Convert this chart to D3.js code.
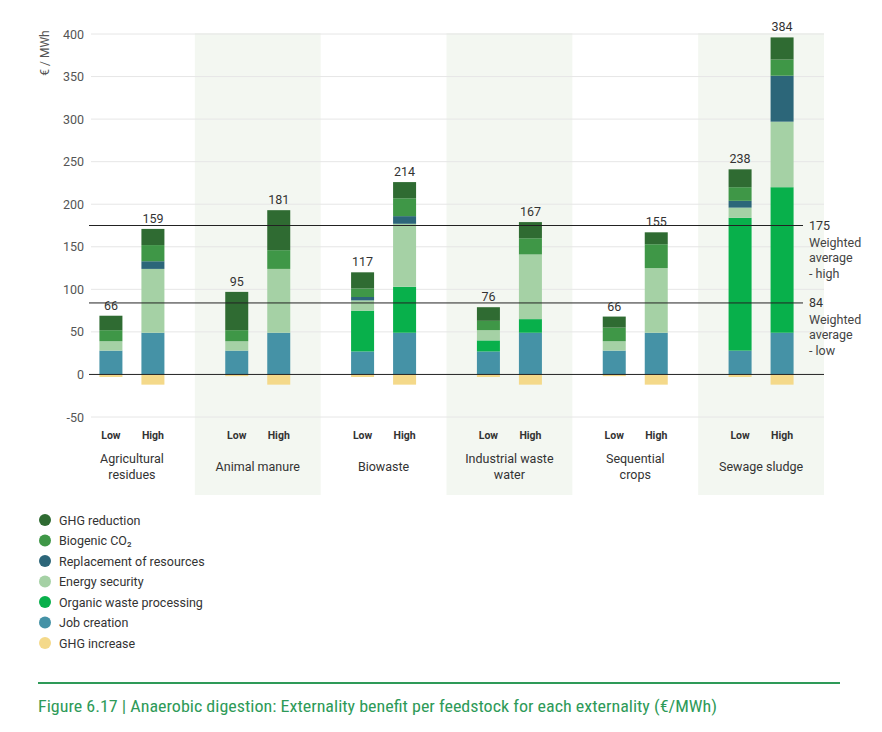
<!DOCTYPE html>
<html><head><meta charset="utf-8">
<script src="https://cdn.jsdelivr.net/npm/d3@7"></script>
<style>
body{margin:0;background:#fff;}
svg{display:block;font-family:Roboto,"Noto Sans",sans-serif;}
</style></head>
<body><svg id="c" width="882" height="732"></svg>
<script>
const feedstocks = ["Agricultural residues","Animal manure","Biowaste","Industrial waste water","Sequential crops","Sewage sludge"];
const feedstockLines = [["Agricultural","residues"],["Animal manure"],["Biowaste"],["Industrial waste","water"],["Sequential","crops"],["Sewage sludge"]];
const levels = ["Low","High"];
// series values, order: Agri L, Agri H, Manure L, Manure H, Bio L, Bio H, Ind L, Ind H, Seq L, Seq H, Sew L, Sew H
const jobCreation      = [28,49, 28,49, 27,49, 27,49, 28,49, 28,49];
const organicWaste     = [0,0,   0,0,   48,54, 13,16, 0,0,   156,171];
const energySecurity   = [11,75, 11,75, 12,74, 12,76, 11,76, 12,77];
const replacement      = [0,9,   0,0,   4,9,   0,0,   0,0,   8,54];
const biogenicCO2      = [13,19, 13,22, 10,21, 11,19, 16,28, 16,19];
const ghgReduction     = [17,19, 45,47, 19,19, 16,19, 13,14, 21,26];
const ghgIncrease      = [-3,-12,-2,-12,-3,-12,-3,-12,-2,-12,-3,-12];
const totals           = [66,159, 95,181, 117,214, 76,167, 66,155, 238,384];
const weightedHigh = 175, weightedLow = 84;
const yTicks = [-50,0,50,100,150,200,250,300,350,400];
const seriesNames = ["GHG reduction","Biogenic CO₂","Replacement of resources","Energy security","Organic waste processing","Job creation","GHG increase"];
const seriesColors = ["#2f6b32","#3f9747","#2c6679","#a5d1a5","#08b04b","#4592a6","#f4d98a"];

const stackOrder = [
  {name:"Job creation", vals:jobCreation, color:seriesColors[5]},
  {name:"Organic waste processing", vals:organicWaste, color:seriesColors[4]},
  {name:"Energy security", vals:energySecurity, color:seriesColors[3]},
  {name:"Replacement of resources", vals:replacement, color:seriesColors[2]},
  {name:"Biogenic CO₂", vals:biogenicCO2, color:seriesColors[1]},
  {name:"GHG reduction", vals:ghgReduction, color:seriesColors[0]}
];

const svg = d3.select("#c");
const y = d3.scaleLinear().domain([-50,400]).range([417,34]);
const xg = d3.scaleBand().domain(feedstocks).range([69,824]).padding(0);
const xl = d3.scaleOrdinal().domain(levels).range([-21,21]);
const barW = 23;
const gridL = 91, gridR = 824;

// shaded bands
svg.selectAll("rect.band").data(feedstocks.filter((d,i)=>i%2===1)).enter().append("rect")
  .attr("x",d=>xg(d)).attr("y",33).attr("width",xg.bandwidth()).attr("height",462)
  .attr("fill","#f3f7f1");

// gridlines
svg.selectAll("line.grid").data(yTicks.filter(d=>d!==0)).enter().append("line")
  .attr("x1",gridL).attr("x2",gridR).attr("y1",d=>y(d)).attr("y2",d=>y(d))
  .attr("stroke","#e6e6e6").attr("stroke-width",1);
svg.selectAll("text.ytick").data(yTicks).enter().append("text")
  .attr("x",84).attr("y",d=>y(d)+4.5).attr("text-anchor","end")
  .attr("font-size",12.5).attr("fill","#555").text(d=>d);
svg.append("text").attr("transform","translate(49,53) rotate(-90)")
  .attr("text-anchor","middle").attr("font-size",12).attr("fill","#555").text("€ / MWh");

// bars
feedstocks.forEach((f,fi)=>{
  levels.forEach((l,li)=>{
    const idx = fi*2+li;
    const cx = xg(f)+xg.bandwidth()/2+xl(l);
    let base = 0;
    stackOrder.forEach(s=>{
      const v = s.vals[idx];
      if(v>0){
        svg.append("rect").attr("x",cx-barW/2).attr("width",barW)
          .attr("y",y(base+v)).attr("height",y(base)-y(base+v)).attr("fill",s.color);
      }
      base += v;
    });
    const neg = ghgIncrease[idx];
    svg.append("rect").attr("x",cx-barW/2).attr("width",barW)
      .attr("y",y(0)).attr("height",y(neg)-y(0)).attr("fill",seriesColors[6]);
    svg.append("text").attr("x",cx).attr("y",y(base)-6).attr("text-anchor","middle")
      .attr("font-size",12.5).attr("fill","#333").text(totals[idx]);
    svg.append("text").attr("x",cx).attr("y",439).attr("text-anchor","middle")
      .attr("font-size",10.5).attr("font-weight","bold").attr("fill","#333").text(l);
  });
  const lines = feedstockLines[fi];
  const cx = xg(f)+xg.bandwidth()/2;
  lines.forEach((t,ti)=>{
    const yy = lines.length===1 ? 471 : 463+ti*16;
    svg.append("text").attr("x",cx).attr("y",yy).attr("text-anchor","middle")
      .attr("font-size",12.5).attr("fill","#333").text(t);
  });
});

// zero line
svg.append("line").attr("x1",gridL-2).attr("x2",gridR).attr("y1",y(0)).attr("y2",y(0))
  .attr("stroke","#222").attr("stroke-width",1);

// weighted averages
[[weightedHigh,["Weighted","average","- high"]],[weightedLow,["Weighted","average","- low"]]].forEach(([v,lab])=>{
  svg.append("line").attr("x1",gridL-2).attr("x2",803).attr("y1",y(v)).attr("y2",y(v))
    .attr("stroke","#222").attr("stroke-width",1);
  svg.append("text").attr("x",809).attr("y",y(v)+4.5).attr("font-size",12.5).attr("fill","#333").text(v);
  lab.forEach((t,i)=>{
    svg.append("text").attr("x",809).attr("y",y(v)+21+i*15.5).attr("font-size",12.5).attr("fill","#444").text(t);
  });
});

// legend
seriesNames.forEach((n,i)=>{
  const yy = 520+i*20.5;
  svg.append("circle").attr("cx",45).attr("cy",yy).attr("r",6).attr("fill",seriesColors[i]);
  svg.append("text").attr("x",59).attr("y",yy+4.5).attr("font-size",12.5).attr("fill","#333").text(n);
});

// caption
svg.append("line").attr("x1",38).attr("x2",840).attr("y1",683).attr("y2",683)
  .attr("stroke","#2e9a58").attr("stroke-width",2);
svg.append("text").attr("x",38).attr("y",712).attr("font-size",17)
  .attr("font-family","'Liberation Sans Narrow','Roboto Condensed',Roboto,sans-serif")
  .attr("textLength",679).attr("lengthAdjust","spacingAndGlyphs")
  .attr("fill","#2e9a58").text("Figure 6.17 | Anaerobic digestion: Externality benefit per feedstock for each externality (€/MWh)");
</script></body></html>
